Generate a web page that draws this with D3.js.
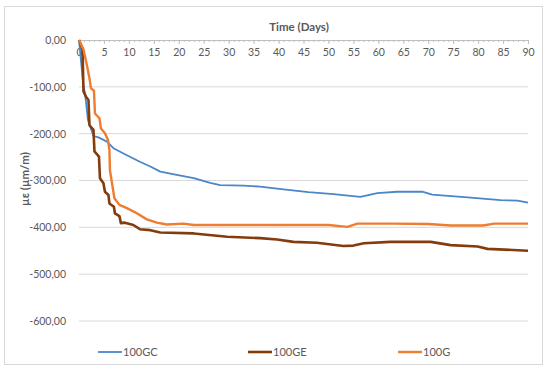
<!DOCTYPE html>
<html>
<head>
<meta charset="utf-8">
<script src="https://cdn.jsdelivr.net/npm/d3@7"></script>
<style>
  body { margin: 0; background: #fff; }
  text { font-family: Lato, "Open Sans", sans-serif; fill: #595959; }
</style>
</head>
<body>
<svg id="chart"></svg>
<script>
// series values: [day, strain]
let gcData = [[0,0],[0.9,-100],[1.2,-113],[1.8,-171],[2.9,-205],[3.9,-208],[5.6,-217],[6.9,-231],[9.6,-246],[12.2,-260],[14.3,-270],[16.3,-281],[19.6,-288],[23,-295],[26.3,-305],[28.3,-310],[33,-311],[36.3,-313],[41,-319],[46,-325],[51,-329],[56.4,-335],[59.8,-327],[63.8,-324],[68.8,-324],[70.8,-330],[77.9,-336],[84.5,-342],[87.9,-343],[90,-347]];
let geData = [[0,0],[0.7,-20],[0.9,-110],[1.4,-121],[1.9,-128],[2.1,-182],[2.9,-192],[3.1,-238],[4,-249],[4.2,-295],[4.9,-306],[5.2,-324],[5.9,-331],[6.1,-349],[7,-356],[7.2,-370],[8.1,-376],[8.4,-391],[9.2,-390],[10.9,-395],[12.2,-404],[14.3,-406],[16.3,-411],[23,-413],[29.7,-420],[36.3,-423],[39.7,-426],[43,-431],[47.7,-433],[53,-440],[55,-439],[57.1,-434],[62.4,-431],[70.5,-431],[74.5,-438],[79.9,-441],[81.9,-446],[90,-450]];
let gData = [[0,0],[0.9,-20],[1.7,-60],[2.1,-82],[2.4,-103],[3,-108],[3.2,-157],[4.1,-167],[4.4,-189],[5.2,-199],[5.8,-213],[6.1,-235],[6.2,-278],[7.1,-338],[8.1,-352],[9.6,-359],[11.6,-370],[13.6,-383],[15.6,-390],[17.6,-394],[20.9,-392],[23,-395],[36.3,-395],[50,-395],[53.8,-399],[55.8,-392],[63,-392],[70,-393],[74.5,-396],[81,-396],[83.2,-392],[90,-392]];

let seriesNames = ['100GC', '100GE', '100G'];
let seriesColors = ['#4a86c8', '#843c0c', '#ed7d31'];
let seriesWidths = [1.8, 2.6, 2.4];
let allSeries = [gcData, geData, gData];

let xTicks = d3.range(0, 91, 5);
let yTicks = [0, -100, -200, -300, -400, -500, -600];

let width = 550, height = 373;
let plotLeft = 79, plotRight = 528, plotTop = 40, plotBottom = 321;

let svg = d3.select('#chart')
	.attr('width', width)
	.attr('height', height);

// outer frame
svg.append('rect')
	.attr('x', 4.5).attr('y', 6.5)
	.attr('width', 538).attr('height', 358)
	.attr('fill', 'none')
	.attr('stroke', '#d9d9d9');

let xScale = d3.scaleLinear().domain([0, 90]).range([plotLeft, plotRight]);
let yScale = d3.scaleLinear().domain([-600, 0]).range([plotBottom, plotTop]);

// gridlines
svg.append('g')
	.selectAll('line')
	.data(yTicks.filter(d => d !== 0))
	.enter()
	.append('line')
	.attr('x1', plotLeft).attr('x2', plotRight)
	.attr('y1', d => yScale(d)).attr('y2', d => yScale(d))
	.attr('stroke', '#d9d9d9')
	.attr('stroke-width', 1);

// y axis labels
let yAxis = d3.axisLeft(yScale)
	.tickValues(yTicks)
	.tickSize(0)
	.tickPadding(13)
	.tickFormat(d => d3.format('.2f')(d).replace('.', ',').replace('−', '-'));
let yAxisGroup = svg.append('g')
	.attr('transform', `translate(${plotLeft},0)`)
	.call(yAxis);
yAxisGroup.select('.domain').remove();
yAxisGroup.selectAll('text').style('font-size', '10.5px').attr('fill', '#595959');

// x axis at the top (zero line) with minor ticks
let xMinor = d3.axisBottom(xScale).tickValues(d3.range(0, 91, 1)).tickSize(2).tickFormat('');
let xMinorGroup = svg.append('g')
	.attr('transform', `translate(0,${plotTop})`)
	.call(xMinor);
xMinorGroup.selectAll('line, path').attr('stroke', '#bfbfbf');

let xAxis = d3.axisBottom(xScale).tickValues(xTicks).tickSize(4).tickPadding(5).tickSizeOuter(0);
let xAxisGroup = svg.append('g')
	.attr('transform', `translate(0,${plotTop})`)
	.call(xAxis);
xAxisGroup.selectAll('line, path').attr('stroke', '#bfbfbf');
xAxisGroup.selectAll('text').style('font-size', '10.5px').attr('fill', '#595959');

// titles
svg.append('text')
	.attr('x', 299).attr('y', 31)
	.style('text-anchor', 'middle')
	.style('font-size', '11.5px')
	.style('font-weight', 'bold')
	.text('Time (Days)');

svg.append('text')
	.attr('transform', 'rotate(-90)')
	.attr('x', -179).attr('y', 29)
	.style('text-anchor', 'middle')
	.style('font-size', '11.5px')
	.style('font-weight', 'bold')
	.text('µε (µm/m)');

// lines
let line = d3.line()
	.x(d => xScale(d[0]))
	.y(d => yScale(d[1]));

allSeries.forEach((data, i) => {
	svg.append('path')
		.datum(data)
		.attr('d', line)
		.attr('fill', 'none')
		.attr('stroke', seriesColors[i])
		.attr('stroke-width', seriesWidths[i])
		.attr('stroke-linejoin', 'round');
});

// legend
let legendX = [98, 248, 398];
let legend = svg.append('g');
seriesNames.forEach((name, i) => {
	legend.append('line')
		.attr('x1', legendX[i]).attr('x2', legendX[i] + 24)
		.attr('y1', 352).attr('y2', 352)
		.attr('stroke', seriesColors[i])
		.attr('stroke-width', seriesWidths[i]);
	legend.append('text')
		.attr('x', legendX[i] + 25).attr('y', 356)
		.style('font-size', '11px')
		.text(name);
});
</script>
</body>
</html>
